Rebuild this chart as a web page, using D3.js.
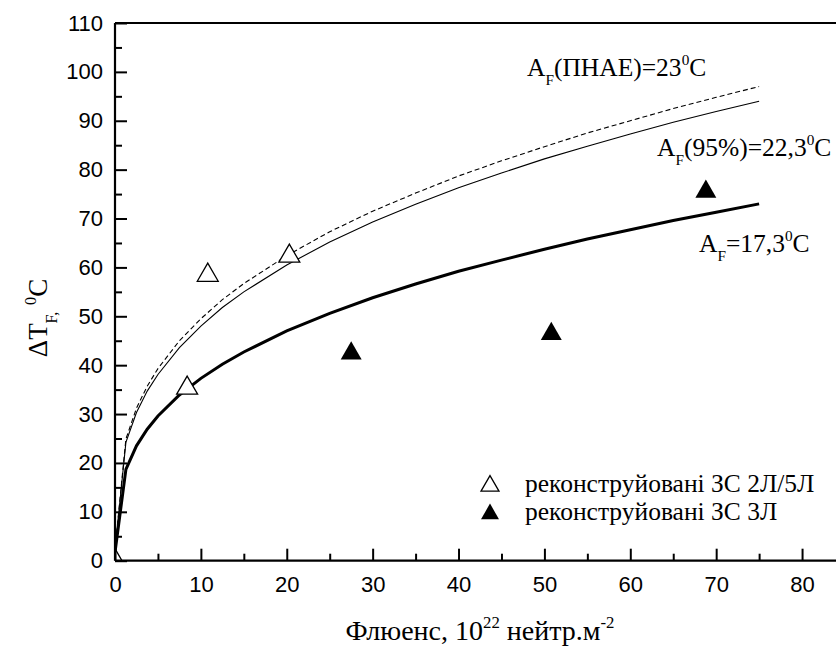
<!DOCTYPE html>
<html><head><meta charset="utf-8">
<script src="https://cdn.jsdelivr.net/npm/d3@7"></script>
<style>body{margin:0;background:#fff}</style>
</head><body><svg id="c" width="836" height="648"></svg>
<script>
// Fluence values (10^22 n/m^2) at which the three trend curves are sampled
const fluence   = [0.001, 1.27, 2.5, 3.75, 5, 7.5, 10, 12.5, 15, 20, 25, 30, 35, 40, 45, 50, 55, 60, 65, 70, 75];
// A_F = 17,3 °C (thick solid)
const curveA173 = [1.73, 18.7, 23.5, 26.9, 29.6, 33.9, 37.3, 40.2, 42.7, 47.0, 50.6, 53.8, 56.6, 59.2, 61.5, 63.7, 65.8, 67.7, 69.6, 71.3, 73.0];
// A_F(95%) = 22,3 °C (thin solid)
const curveA223 = [2.23, 24.2, 30.3, 34.7, 38.1, 43.6, 48.0, 51.8, 55.0, 60.5, 65.2, 69.3, 72.9, 76.3, 79.3, 82.2, 84.8, 87.3, 89.7, 91.9, 94.0];
// A_F(ПНАЕ) = 23 °C (dashed)
const curveA23  = [2.3, 24.9, 31.2, 35.7, 39.3, 45.0, 49.5, 53.4, 56.7, 62.4, 67.3, 71.5, 75.2, 78.7, 81.8, 84.7, 87.5, 90.0, 92.5, 94.8, 97.0];
// Reconstructed welds 2Л/5Л (open triangles)
const open2L5L_x = [0, 8.4, 10.8, 20.3];
const open2L5L_y = [0, 35.3, 58.4, 62.3];
// Reconstructed welds 3Л (filled triangles)
const filled3L_x = [27.5, 50.8, 68.8];
const filled3L_y = [42.4, 46.4, 75.5];
// Axis ticks
const xTicks = [0, 10, 20, 30, 40, 50, 60, 70, 80];
const yTicks = [0, 10, 20, 30, 40, 50, 60, 70, 80, 90, 100, 110];
const xMinor = [5, 15, 25, 35, 45, 55, 65, 75, 85];
const yMinor = [5, 15, 25, 35, 45, 55, 65, 75, 85, 95, 105];

const svg = d3.select("#c");
const L = 115, R = 845, T = 23, B = 560.7;
const x = d3.scaleLinear().domain([0, 85]).range([L, R]);
const y = d3.scaleLinear().domain([0, 110]).range([B, T]);

svg.append("defs").append("clipPath").attr("id", "plot")
  .append("rect").attr("x", L).attr("y", T).attr("width", R - L).attr("height", B - T);

const g = svg.append("g").attr("clip-path", "url(#plot)");
const line = d3.line().x(d => x(d[0])).y(d => y(d[1]));
const mk = arr => fluence.map((f, i) => [f, arr[i]]);

g.append("path").attr("d", line(mk(curveA23))).attr("fill", "none").attr("stroke", "#000")
  .attr("stroke-width", 1.1).attr("stroke-dasharray", "5,3");
g.append("path").attr("d", line(mk(curveA223))).attr("fill", "none").attr("stroke", "#000")
  .attr("stroke-width", 1.1);
g.append("path").attr("d", line(mk(curveA173))).attr("fill", "none").attr("stroke", "#000")
  .attr("stroke-width", 3);

const tri = d3.symbol().type(d3.symbolTriangle).size(190);
g.selectAll(".op").data(open2L5L_x.map((v, i) => [v, open2L5L_y[i]])).join("path")
  .attr("d", tri).attr("transform", d => `translate(${x(d[0])},${y(d[1])})`)
  .attr("fill", "#fff").attr("stroke", "#000").attr("stroke-width", 1.3);
g.selectAll(".fp").data(filled3L_x.map((v, i) => [v, filled3L_y[i]])).join("path")
  .attr("d", tri).attr("transform", d => `translate(${x(d[0])},${y(d[1])})`)
  .attr("fill", "#000");

// Axes
const tickFont = "'Liberation Sans', Arial, sans-serif";
const xa = svg.append("g").attr("transform", `translate(0,${B})`)
  .call(d3.axisBottom(x).tickValues(xTicks).tickSize(-12).tickPadding(16).tickFormat(d3.format("d")));
const xm = svg.append("g").attr("transform", `translate(0,${B})`)
  .call(d3.axisBottom(x).tickValues(xMinor).tickSize(-7).tickFormat(""));
const ya = svg.append("g").attr("transform", `translate(${L},0)`)
  .call(d3.axisLeft(y).tickValues(yTicks).tickSize(-12).tickPadding(12).tickFormat(d3.format("d")));
const ym = svg.append("g").attr("transform", `translate(${L},0)`)
  .call(d3.axisLeft(y).tickValues(yMinor).tickSize(-7).tickFormat(""));
[xa, xm, ya, ym].forEach(a => {
  a.select(".domain").attr("stroke-width", 2.2).attr("stroke", "#000");
  a.selectAll(".tick line").attr("stroke-width", 2).attr("stroke", "#000");
  a.selectAll(".tick text").attr("font-family", tickFont).attr("font-size", 22).attr("fill", "#000");
});
xa.select(".domain").attr("d", `M${L},0H${R}`);
xm.select(".domain").remove();
ym.select(".domain").remove();
ya.select(".domain").attr("d", `M0,${B}V${T}`);
svg.append("line").attr("x1", L).attr("x2", R).attr("y1", T).attr("y2", T)
  .attr("stroke", "#000").attr("stroke-width", 2.2);

// Rich text helper
const serif = "'Liberation Serif', 'Times New Roman', serif";
function rich(parent, parts, size) {
  const t = parent.append("text").attr("font-family", serif).attr("font-size", size).attr("fill", "#000");
  parts.forEach(p => {
    const s = t.append("tspan").text(p[0]);
    if (p[1] === "sub") s.attr("font-size", size * 0.6).attr("baseline-shift", -size * 0.36);
    if (p[1] === "sup") s.attr("font-size", size * 0.6).attr("baseline-shift", size * 0.42);
  });
  return t;
}

rich(svg, [["A"], ["F", "sub"], ["(ПНАЕ)=23"], ["0", "sup"], ["C"]], 25.5).attr("x", 527).attr("y", 76);
rich(svg, [["A"], ["F", "sub"], ["(95%)=22,3"], ["0", "sup"], ["C"]], 25.5).attr("x", 657).attr("y", 156);
rich(svg, [["A"], ["F", "sub"], ["=17,3"], ["0", "sup"], ["C"]], 25.5).attr("x", 699).attr("y", 252);

// Axis titles
rich(svg, [["Флюенс, 10"], ["22", "sup"], [" нейтр.м"], ["-2", "sup"]], 28)
  .attr("x", 480).attr("y", 640).attr("text-anchor", "middle");
rich(svg, [["ΔT"], ["F,", "sub"], [" "], ["0", "sup"], ["C"]], 27)
  .attr("text-anchor", "middle").attr("transform", "translate(47,318) rotate(-90)");

// Legend
const legTri = d3.symbol().type(d3.symbolTriangle).size(140);
svg.append("path").attr("d", legTri).attr("transform", "translate(490,486)")
  .attr("fill", "#fff").attr("stroke", "#000").attr("stroke-width", 1.3);
svg.append("path").attr("d", legTri).attr("transform", "translate(490,514)").attr("fill", "#000");
rich(svg, [["реконструйовані ЗС 2Л/5Л"]], 25.5).attr("x", 525).attr("y", 492);
rich(svg, [["реконструйовані ЗС 3Л"]], 25.5).attr("x", 525).attr("y", 520);
</script></body></html>
